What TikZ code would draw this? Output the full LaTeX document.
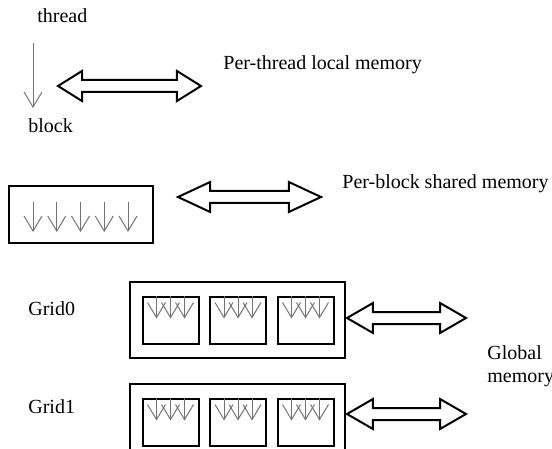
\documentclass[tikz,border=0pt]{standalone}
\usepackage{fontspec}
\setmainfont{Liberation Serif}
\usetikzlibrary{arrows.meta,shapes.arrows}

\begin{document}
\begin{tikzpicture}[
  x=0.5pt, y=-0.5pt,
  lbl/.style={font=\fontsize{10pt}{12pt}\selectfont, inner sep=0pt, anchor=base west},
  box/.style={draw, line width=1pt, inner sep=0pt},
  dbl/.style={
    double arrow, draw, line width=1pt, fill=white,
    inner sep=2.5pt, double arrow head extend=4.5pt, minimum width=12.5pt
  },
  thr/.style={-{Straight Barb[length=7.5pt,width=9pt]}, black!55, line width=0.5pt}
]
\useasboundingbox (0,0) rectangle (552,449);
\clip (0,0) rectangle (552,449);

% Thread level
\node[lbl] (thread) at (37,23) {thread};
\coordinate (tTop) at (33,43);
\coordinate (tTip) at (33,108);
\draw[thr] (tTop) -- (tTip);
\node[dbl, minimum height=71.5pt, double arrow tip angle=64] (locArrow) at (129.5,86) {};
\node[lbl] (local) at (223,70) {Per-thread local memory};

% Block level
\node[lbl] (block) at (28,133) {block};
\node[box, minimum width=72pt, minimum height=28.5pt] (blk) at (81,214.5) {};
\foreach \x in {33,56.75,80.5,104.25,128}
  \draw[thr] (\x,202) -- (\x,232);
\node[dbl, minimum height=71.5pt, double arrow tip angle=50] (shArrow) at (249.5,197) {};
\node[lbl] (shared) at (342,189) {Per-block shared memory};

% Grid level
\node[lbl] (grid0lbl) at (28,315) {Grid0};
\node[lbl] (grid1lbl) at (28,413) {Grid1};
\foreach \g/\gy in {0/320,1/422}{
  \node[box, minimum width=107.5pt, minimum height=38pt] (grid\g) at (237.5,\gy) {};
  \foreach \b/\bx in {1/170.5,2/238,3/305.5}{
    \node[box, minimum width=28pt, minimum height=23.5pt] (g\g-b\b) at (\bx,\gy) {};
    \foreach \dx in {-7pt,0pt,7pt}
      \draw[thr] ([xshift=\dx]g\g-b\b.north) -- ([xshift=\dx,yshift=-11.5pt]g\g-b\b.north);
  }
}
\node[dbl, minimum height=59.5pt, double arrow tip angle=60] (glArrow0) at (406.5,318) {};
\node[dbl, minimum height=59.5pt, double arrow tip angle=60] (glArrow1) at (406.5,414) {};
\node[lbl, font=\fontsize{10pt}{11.5pt}\selectfont, align=left, anchor=north west]
  (global) at (487,345) {Global\\memory};
\end{tikzpicture}
\end{document}
